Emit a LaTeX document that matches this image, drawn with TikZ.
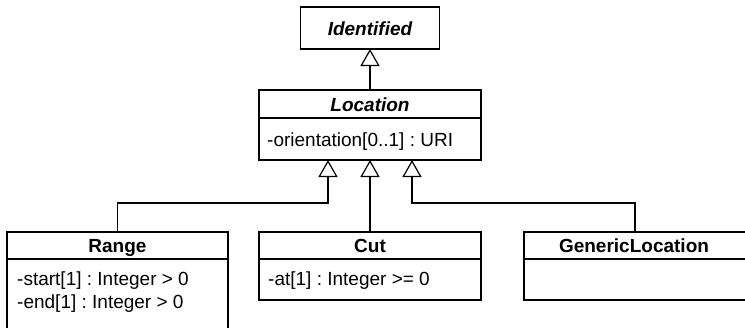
\documentclass[tikz,border=0pt]{standalone}
\usepackage{fontspec}
\setmainfont{Liberation Sans}
\usetikzlibrary{arrows.meta}
\frenchspacing
\begin{document}
\begin{tikzpicture}[x=1pt,y=-1pt,
  box/.style={draw, line width=1.2pt, inner sep=0pt, outer sep=0pt, fill=white},
  divider/.style={line width=1.2pt},
  title/.style={font=\fontsize{19}{23}\selectfont\bfseries, inner sep=0pt, anchor=base},
  ititle/.style={font=\fontsize{19}{23}\selectfont\bfseries\itshape, inner sep=0pt, anchor=base},
  attr/.style={font=\fontsize{19}{23}\selectfont, inner sep=0pt, anchor=base west},
  inh/.style={line width=1.2pt, -{Triangle[length=17pt, width=19pt, fill=white]}}
]
\useasboundingbox (0,0) rectangle (745,327);
\clip (0,0) rectangle (745,327);

% boxes
\node[box, minimum width=139pt, minimum height=42pt] (ident) at (370,28) {};
\node[box, minimum width=222pt, minimum height=70pt] (loc) at (370,125) {};
\node[box, minimum width=221pt, minimum height=100pt] (range) at (117.5,282) {};
\node[box, minimum width=222pt, minimum height=68pt] (cut) at (370,266) {};
\node[box, minimum width=222pt, minimum height=68pt] (gen) at (635,266) {};

% dividers
\draw[divider] ([yshift=-28pt]loc.north west) -- ([yshift=-28pt]loc.north east);
\draw[divider] ([yshift=-27pt]range.north west) -- ([yshift=-27pt]range.north east);
\draw[divider] ([yshift=-27pt]cut.north west) -- ([yshift=-27pt]cut.north east);
\draw[divider] ([yshift=-27pt]gen.north west) -- ([yshift=-27pt]gen.north east);

% texts
\node[ititle] (identT) at (370,35) {Identified};
\node[ititle] (locT) at (370,111) {Location};
\node[attr] (locA) at (267,146) {-orientation[0..1] : URI};
\node[title] (rangeT) at (117.5,252) {Range};
\node[attr] (rangeA1) at (17,285) {-start[1] : Integer > 0};
\node[attr] (rangeA2) at (17,308) {-end[1] : Integer > 0};
\node[title] (cutT) at (370,252) {Cut};
\node[attr] (cutA) at (268,285) {-at[1] : Integer >= 0};
\node[title] (genT) at (634,252) {GenericLocation};

% generalizations
\draw[inh] (loc.north) -- (ident.south);
\draw[inh] (range.north) -- ++(0,-29) -| ([xshift=-42pt]loc.south);
\draw[inh] (cut.north) -- (loc.south);
\draw[inh] (gen.north) -- ++(0,-29) -| ([xshift=42pt]loc.south);
\end{tikzpicture}
\end{document}
